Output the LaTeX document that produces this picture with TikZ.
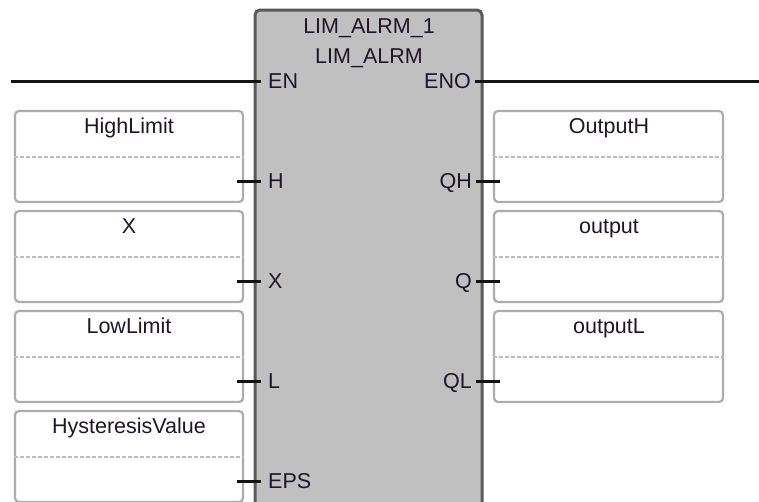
\documentclass[tikz,border=0pt]{standalone}
\usepackage{fontspec}
\setmainfont{Liberation Sans}
\definecolor{txtc}{HTML}{1E1628}
\definecolor{boxc}{HTML}{ACACAC}
\definecolor{sepc}{HTML}{BCBCBC}
\definecolor{blockfill}{HTML}{C0C0C0}
\definecolor{blockline}{HTML}{5A5A5A}
\definecolor{railc}{HTML}{141414}
\begin{document}
\begin{tikzpicture}[x=1pt,y=-1pt,
  txt/.style={font=\fontsize{21.5}{24}\selectfont, text=txtc, inner sep=0pt, anchor=base},
  txtr/.style={txt, anchor=base east},
  txtl/.style={txt, anchor=base west},
  varbox/.style={draw=boxc, line width=2.2pt, rounded corners=4pt, fill=white, minimum width=228pt, minimum height=91pt, inner sep=0pt},
  outbox/.style={varbox, minimum width=229pt},
  fblock/.style={draw=blockline, line width=3pt, rounded corners=5pt, fill=blockfill, minimum width=227pt, minimum height=510pt, inner sep=0pt},
  sepline/.style={draw=sepc, line width=1.8pt, dash pattern=on 4pt off 2pt},
  pinline/.style={line width=3pt, draw=railc},
  rail/.style={line width=3pt, draw=railc}]
\clip (0,0) rectangle (759,501);
\fill[white] (0,0) rectangle (759,501);
% function block
\node[fblock] (fb) at (368.5,265) {};
\node[txt] (inst) at (369,33) {LIM\_ALRM\_1};
\node[txt] (type) at (369,63) {LIM\_ALRM};
% power rails
\coordinate (railL) at (11,81);
\coordinate (enp) at (261,81);
\coordinate (enop) at (475,81);
\coordinate (railR) at (759,81);
\draw[rail] (railL) -- (enp);
\draw[rail] (enop) -- (railR);
\node[txtl] (en) at (268,88) {EN};
\node[txtr] (eno) at (471,88) {ENO};
% input variable boxes
\node[varbox] (vH) at (129,156.5) {};
\node[varbox] (vX) at (129,256.5) {};
\node[varbox] (vL) at (129,356.5) {};
\node[varbox] (vE) at (129,456.5) {};
\draw[sepline] (vH.west |- 0,157) -- (vH.east |- 0,157);
\draw[sepline] (vX.west |- 0,257) -- (vX.east |- 0,257);
\draw[sepline] (vL.west |- 0,357) -- (vL.east |- 0,357);
\draw[sepline] (vE.west |- 0,457) -- (vE.east |- 0,457);
\node[txt] (tH) at (129,133) {HighLimit};
\node[txt] (tX) at (129,233) {X};
\node[txt] (tL) at (129,333) {LowLimit};
\node[txt] (tE) at (129,433) {HysteresisValue};
% output variable boxes
\node[outbox] (oH) at (608.5,156.5) {};
\node[outbox] (oQ) at (608.5,256.5) {};
\node[outbox] (oL) at (608.5,356.5) {};
\draw[sepline] (oH.west |- 0,157) -- (oH.east |- 0,157);
\draw[sepline] (oQ.west |- 0,257) -- (oQ.east |- 0,257);
\draw[sepline] (oL.west |- 0,357) -- (oL.east |- 0,357);
\node[txt] (toH) at (609,133) {OutputH};
\node[txt] (toQ) at (609,233) {output};
\node[txt] (toL) at (609,333) {outputL};
% input pins
\coordinate (iH0) at (237,181); \coordinate (iH1) at (261,181);
\coordinate (iX0) at (237,281); \coordinate (iX1) at (261,281);
\coordinate (iL0) at (237,381); \coordinate (iL1) at (261,381);
\coordinate (iE0) at (237,481); \coordinate (iE1) at (261,481);
\draw[pinline] (iH0) -- (iH1);
\draw[pinline] (iX0) -- (iX1);
\draw[pinline] (iL0) -- (iL1);
\draw[pinline] (iE0) -- (iE1);
\node[txtl] (pH) at (268,188) {H};
\node[txtl] (pX) at (268,288) {X};
\node[txtl] (pL) at (268,388) {L};
\node[txtl] (pE) at (268,488) {EPS};
% output pins
\coordinate (qH0) at (476,181); \coordinate (qH1) at (500,181);
\coordinate (qQ0) at (476,281); \coordinate (qQ1) at (500,281);
\coordinate (qL0) at (476,381); \coordinate (qL1) at (500,381);
\draw[pinline] (qH0) -- (qH1);
\draw[pinline] (qQ0) -- (qQ1);
\draw[pinline] (qL0) -- (qL1);
\node[txtr] (pQH) at (472,188) {QH};
\node[txtr] (pQ) at (472,288) {Q};
\node[txtr] (pQL) at (472,388) {QL};
\end{tikzpicture}
\end{document}
